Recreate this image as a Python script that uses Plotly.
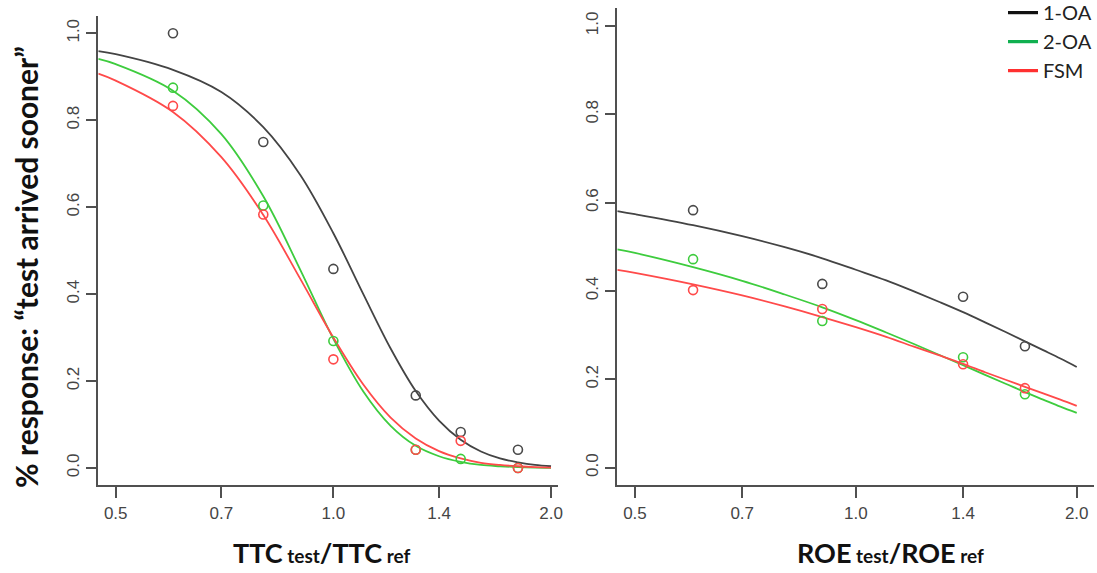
import plotly.graph_objects as go
import math

# ---------------- data ----------------
ttc_x = [0.6, 0.8, 1.0, 1.3, 1.5, 1.8]
ttc_1oa = [1.0, 0.75, 0.458, 0.167, 0.083, 0.042]
ttc_2oa = [0.875, 0.604, 0.292, 0.042, 0.021, 0.0]
ttc_fsm = [0.833, 0.583, 0.25, 0.042, 0.0625, 0.0]

roe_x = [0.6, 0.9, 1.4, 1.7]
roe_1oa = [0.583, 0.416, 0.387, 0.275]
roe_2oa = [0.472, 0.332, 0.25, 0.166]
roe_fsm = [0.402, 0.359, 0.234, 0.180]

# fitted psychometric curves
fit_x = [0.473, 0.5, 0.6, 0.7, 0.8, 0.9, 1.0, 1.1, 1.2, 1.3, 1.4, 1.5, 1.6, 1.7, 1.8, 1.9, 2.0]
ttc_fit_1oa = [0.959, 0.952, 0.916, 0.865, 0.784, 0.674, 0.540, 0.400, 0.275, 0.177, 0.109, 0.065, 0.038, 0.022, 0.013, 0.007, 0.004]
ttc_fit_2oa = [0.941, 0.929, 0.868, 0.768, 0.625, 0.456, 0.297, 0.176, 0.097, 0.051, 0.027, 0.014, 0.007, 0.004, 0.002, 0.001, 0.0005]
ttc_fit_fsm = [0.907, 0.891, 0.819, 0.715, 0.582, 0.435, 0.300, 0.192, 0.116, 0.068, 0.039, 0.022, 0.012, 0.007, 0.004, 0.002, 0.001]
roe_fit_1oa = [0.581, 0.574, 0.549, 0.524, 0.499, 0.474, 0.448, 0.424, 0.399, 0.375, 0.352, 0.329, 0.307, 0.286, 0.266, 0.247, 0.228]
roe_fit_2oa = [0.494, 0.486, 0.454, 0.423, 0.392, 0.363, 0.334, 0.306, 0.280, 0.255, 0.232, 0.210, 0.190, 0.171, 0.154, 0.138, 0.124]
roe_fit_fsm = [0.448, 0.441, 0.415, 0.390, 0.365, 0.341, 0.318, 0.296, 0.274, 0.254, 0.235, 0.216, 0.199, 0.183, 0.168, 0.154, 0.140]

group_names = ["1-OA", "2-OA", "FSM"]
x_ticks = [0.5, 0.7, 1.0, 1.4, 2.0]
x_ticktext = ["0.5", "0.7", "1.0", "1.4", "2.0"]
y_ticks = [0.0, 0.2, 0.4, 0.6, 0.8, 1.0]
y_ticktext = ["0.0", "0.2", "0.4", "0.6", "0.8", "1.0"]

line_colors = ["#444444", "#3ecc3e", "#ff4a4a"]
marker_colors = ["#4a4a4a", "#3ecc3e", "#ff4a4a"]
legend_colors = ["#111111", "#10b050", "#ff3030"]

W, H = 1097, 573

fig = go.Figure()

panels = [
    ("x", "y", ttc_x, [ttc_1oa, ttc_2oa, ttc_fsm], [ttc_fit_1oa, ttc_fit_2oa, ttc_fit_fsm]),
    ("x2", "y2", roe_x, [roe_1oa, roe_2oa, roe_fsm], [roe_fit_1oa, roe_fit_2oa, roe_fit_fsm]),
]
for xa, ya, px, pts, fits in panels:
    for i in range(3):
        fig.add_trace(go.Scatter(
            x=fit_x, y=fits[i], xaxis=xa, yaxis=ya, mode="lines",
            line=dict(color=line_colors[i], width=1.8, shape="spline"),
            showlegend=False, hoverinfo="skip"))
    for i in range(3):
        fig.add_trace(go.Scatter(
            x=px, y=pts[i], xaxis=xa, yaxis=ya, mode="markers",
            marker=dict(symbol="circle-open", size=9, color=marker_colors[i],
                        line=dict(width=1.6, color=marker_colors[i])),
            showlegend=False))

# legend entries
for i, name in enumerate(group_names):
    fig.add_trace(go.Scatter(
        x=[None], y=[None], xaxis="x2", yaxis="y2", mode="lines", name=name,
        legendgroup=name, line=dict(color=legend_colors[i], width=3.2)))

tickfont = dict(family="Liberation Sans, Arial, sans-serif", size=17, color="#454545")
common_x = dict(type="log", showgrid=False, zeroline=False, showline=True,
                linecolor="#505050", linewidth=1.6, ticks="outside", ticklen=11,
                tickwidth=1.6, tickcolor="#505050", tickvals=x_ticks,
                ticktext=x_ticktext, tickfont=tickfont, fixedrange=True)
common_y = dict(range=[-0.04, 1.04], showgrid=False, zeroline=False, showline=True,
                linecolor="#505050", linewidth=1.6, ticks="outside", ticklen=11,
                tickwidth=1.6, tickcolor="#505050", tickvals=y_ticks,
                ticktext=y_ticktext, tickfont=tickfont, tickangle=-90, fixedrange=True)

lo = math.log10(2 ** -1.08)
fig.update_layout(
    width=W, height=H,
    margin=dict(l=0, r=0, t=0, b=0, autoexpand=False),
    paper_bgcolor="white", plot_bgcolor="white",
    xaxis=dict(common_x, domain=[98.3 / W, 558 / W], range=[lo, math.log10(2 ** 1.032)], anchor="y"),
    yaxis=dict(common_y, domain=[(H - 485.4) / H, (H - 15.9) / H], anchor="x"),
    xaxis2=dict(common_x, domain=[617.3 / W, 1094.4 / W], range=[lo, -lo], anchor="y2"),
    yaxis2=dict(common_y, domain=[(H - 485.3) / H, (H - 8.3) / H], anchor="x2"),
    legend=dict(x=1003 / W, xanchor="left", y=1.012, yanchor="top",
                font=dict(family="Lato, sans-serif", size=20, color="#222222"),
                bgcolor="rgba(0,0,0,0)", traceorder="grouped", tracegroupgap=0,
                itemwidth=30),
    showlegend=True,
)

title_font = dict(family="Lato, sans-serif", size=27, color="#111111")
fig.add_annotation(
    xref="paper", yref="paper", x=321 / W, y=(H - 552) / H, showarrow=False,
    text="<b>TTC<span style='font-size:19px'> test</span>/TTC<span style='font-size:19px'> ref</span></b>",
    font=title_font, xanchor="center", yanchor="middle")
fig.add_annotation(
    xref="paper", yref="paper", x=890 / W, y=(H - 552) / H, showarrow=False,
    text="<b>ROE<span style='font-size:19px'> test</span>/ROE<span style='font-size:19px'> ref</span></b>",
    font=title_font, xanchor="center", yanchor="middle")
fig.add_annotation(
    xref="paper", yref="paper", x=26 / W, y=(H - 267) / H, showarrow=False,
    text="<b>% response: \u201ctest arrived sooner\u201d</b>", textangle=-90,
    font=dict(family="Lato, sans-serif", size=30, color="#111111"),
    xanchor="center", yanchor="middle")

fig.write_html("out.html")
